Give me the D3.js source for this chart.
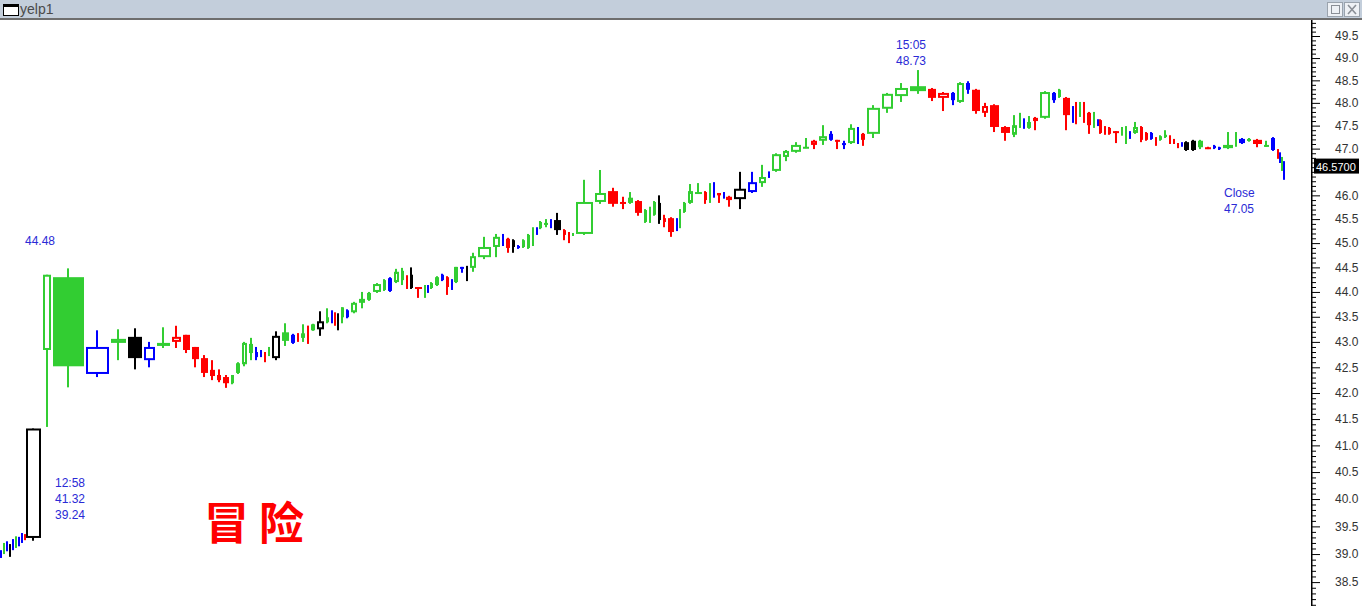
<!DOCTYPE html>
<html><head><meta charset="utf-8">
<script src="https://cdn.jsdelivr.net/npm/d3@7"></script>
<style>body{margin:0;background:#fff;overflow:hidden}svg{display:block}</style>
</head><body>
<svg id="c" width="1362" height="606"></svg>
<script>
const volumes=[3,3,3,3,3,3,3,3,2,17, 10,33,25,17,16,13,15,11,9,9, 9,7,6,8,5,6,7,6,5,4, 4,4,10,9,6,4,6,4,6,9,
5,3,3,4,5,5,8,8,6,10, 5,6,7,5,4,5,9,3,3,5, 6,5,5,3,6,6,4,8,15,9, 4,6,5,5,5,5,4,3,5,6,
4,9,5,4,4,19,13,12,8,7, 9,5,4,5,5,5,8,3,4,5, 7,9,5,4,4,6,3,8,14,11, 9,4,11,8,12,8,8,10,6,7,
6,9,4,6,15,13,15,18,10,13, 6,9,6,10,8,11,11,7,4,4, 6,7,12,6,5,9,3,4,4,4, 6,4,2,5,4,5,8,4,4,4,
7,5,5,5,4,5,5,4,4,4, 3,7,7,7,8,5,5,12,4,8, 6,11,7,6,2,2,2,2];
const opens=[39.03,39.03,39.20,39.14,39.11,39.16,39.27,39.23,39.34,39.29,
42.84,44.30,42.37,42.98,43.10,42.64,42.92,43.00,43.14,42.90,
42.68,42.45,42.35,42.31,42.19,42.39,42.56,42.96,42.80,42.78,
42.80,42.74,42.68,43.19,42.98,43.17,43.08,43.32,43.23,43.25,
43.49,43.53,43.53,43.49,43.49,43.63,43.59,43.78,43.98,44.00,
44.04,44.28,44.20,44.24,44.32,44.35,44.10,43.90,44.12,44.08,
44.14,44.35,44.30,44.24,44.20,44.51,44.53,44.49,44.71,44.92,
45.17,45.09,45.06,44.94,44.92,44.90,44.96,45.31,45.31,45.40,
45.48,45.48,45.27,45.21,45.17,45.19,45.86,46.09,45.86,45.84,
45.88,45.44,45.57,45.59,45.84,45.44,45.52,45.27,45.42,45.65,
45.84,46.05,46.07,45.86,46.26,46.05,46.05,45.97,45.92,46.07,
46.26,46.49,46.52,46.82,46.93,47.03,47.08,47.17,47.32,47.19,
47.12,47.12,47.45,47.19,47.32,47.87,48.15,48.37,48.31,48.11,
48.22,48.02,48.44,48.29,47.78,47.95,47.47,47.30,47.47,47.64,
47.45,47.60,47.67,48.22,48.13,48.11,47.91,48.00,47.71,48.00,
47.78,47.47,47.62,47.62,47.47,47.45,47.38,47.30,47.25,47.36,
47.34,47.47,47.34,47.34,47.23,47.19,47.25,47.27,47.19,47.12,
47.12,47.14,47.17,47.17,47.03,47.06,47.03,47.01,47.06,47.21,
47.17,47.19,47.06,47.23,46.97,46.90,46.80,46.71];
const highs=[39.07,39.20,39.23,39.18,39.27,39.32,39.31,39.38,39.36,41.32,
44.35,44.48,43.23,43.25,43.27,43.00,43.29,43.32,43.14,42.90,
42.74,42.64,42.46,42.35,42.35,42.60,43.00,43.08,42.90,42.84,
42.80,42.90,43.21,43.37,43.16,43.17,43.35,43.32,43.36,43.61,
43.67,43.63,43.59,43.57,43.69,43.65,43.80,44.00,44.00,44.18,
44.26,44.30,44.47,44.49,44.34,44.50,44.10,44.14,44.14,44.20,
44.32,44.37,44.32,44.26,44.51,44.51,44.53,44.80,45.13,45.19,
45.19,45.11,45.08,44.96,45.08,45.19,45.33,45.33,45.46,45.50,
45.50,45.63,45.29,45.23,45.21,46.33,46.54,46.16,45.97,46.07,
45.90,45.71,45.76,45.88,46.00,45.59,45.54,45.52,45.71,45.86,
46.24,46.26,46.09,46.26,46.28,46.05,46.07,45.99,46.50,46.50,
46.65,46.51,46.90,46.97,47.14,47.23,47.19,47.51,47.38,47.19,
47.17,47.53,47.47,47.34,47.95,48.22,48.44,48.73,48.33,48.24,
48.24,48.46,48.48,48.31,48.00,47.97,47.49,47.73,47.78,47.66,
47.71,47.69,48.26,48.24,48.31,48.13,47.93,48.02,48.02,48.02,
47.80,47.80,47.64,47.64,47.49,47.47,47.38,47.47,47.49,47.38,
47.58,47.49,47.36,47.36,47.25,47.29,47.40,47.29,47.21,47.12,
47.14,47.16,47.19,47.19,47.04,47.08,47.04,47.36,47.36,47.23,
47.23,47.21,47.17,47.25,46.99,46.92,46.82,46.73];
const lows=[38.93,39.00,39.05,38.95,39.07,39.11,39.14,39.20,39.25,39.24,
41.35,42.11,42.31,42.64,42.46,42.50,42.88,42.88,42.78,42.50,
42.31,42.25,42.21,42.10,42.17,42.37,42.52,42.64,42.64,42.70,
42.60,42.72,42.64,42.92,42.96,43.00,43.00,42.96,43.22,43.12,
43.37,43.37,43.32,43.23,43.37,43.47,43.57,43.67,43.82,43.98,
44.02,44.00,44.18,44.14,44.06,44.06,43.88,43.88,43.98,44.06,
44.12,44.22,43.94,44.04,44.18,44.39,44.22,44.41,44.67,44.71,
44.94,44.80,44.80,44.88,44.90,44.88,44.94,45.17,45.29,45.33,
45.31,45.17,45.06,45.00,45.15,45.17,45.82,45.76,45.71,45.82,
45.57,45.42,45.42,45.57,45.40,45.33,45.13,45.25,45.31,45.63,
45.82,46.03,45.82,45.84,45.95,45.84,45.93,45.76,45.71,46.05,
46.18,46.37,46.50,46.73,46.91,47.01,46.99,47.08,47.17,46.99,
46.99,47.10,47.10,47.06,47.23,47.78,48.02,48.20,48.04,47.82,
47.95,48.00,48.20,47.76,47.69,47.36,47.17,47.25,47.45,47.43,
47.43,47.40,47.65,48.00,48.11,47.40,47.56,47.53,47.69,47.56,
47.32,47.45,47.49,47.32,47.30,47.30,47.12,47.28,47.10,47.21,
47.32,47.14,47.17,47.19,47.06,47.17,47.23,47.10,47.10,47.01,
47.04,46.95,46.95,46.99,46.99,46.99,46.97,46.99,47.04,47.10,
47.15,47.03,47.04,46.95,46.78,46.69,46.52,46.33];
const closes=[38.96,39.16,39.09,39.03,39.23,39.29,39.20,39.34,39.29,41.32,
44.35,42.52,42.90,43.06,42.68,42.90,42.98,43.10,42.84,42.66,
42.39,42.33,42.25,42.19,42.35,42.58,42.98,42.78,42.70,42.76,
42.70,42.88,43.12,43.02,43.14,43.06,43.17,43.14,43.35,43.41,
43.39,43.43,43.41,43.47,43.69,43.49,43.78,43.86,43.84,44.16,
44.24,44.02,44.41,44.43,44.14,44.08,44.06,44.14,44.00,44.18,
44.30,44.24,44.10,44.08,44.51,44.49,44.49,44.73,44.92,45.13,
44.96,44.90,44.92,44.90,45.06,45.17,45.31,45.19,45.44,45.42,
45.33,45.27,45.17,45.13,45.19,45.86,46.05,45.82,45.82,45.95,
45.63,45.69,45.74,45.86,45.48,45.52,45.23,45.50,45.69,45.84,
46.09,46.07,45.90,46.24,45.97,46.00,45.95,45.90,46.14,46.28,
46.39,46.39,46.88,46.95,47.08,47.04,47.17,47.27,47.19,47.17,
47.08,47.45,47.12,47.32,47.89,48.20,48.33,48.26,48.11,48.22,
48.06,48.44,48.29,47.82,47.93,47.47,47.34,47.51,47.62,47.45,
47.58,47.67,48.24,48.06,48.29,47.73,47.73,47.78,48.00,47.58,
47.51,47.62,47.51,47.34,47.34,47.32,47.36,47.45,47.47,47.23,
47.47,47.19,47.19,47.21,47.19,47.27,47.30,47.12,47.12,47.10,
47.06,46.97,46.97,47.03,47.01,47.01,46.99,47.08,47.23,47.12,
47.21,47.10,47.08,46.97,46.80,46.71,46.54,46.57];
const colorCodes=("bgbkbgbbrk"+"ggbgkbgrrr"+"rrrrggggbb"+"rgkgbrgrgk"+"gbrkgbgggg"+
"gbggrkrgbg"+"gbrbgbkggg"+"brkbgggbgg"+"bkrrgggrrg"+"rgggkrrbgg"+
"ggrgbrbrkb"+"gbggggrgbr"+"bgbrggggrr"+"bgbrrrrggb"+"grgbgrbrgr"+
"rgbrrrrggb"+"grrbrggrrr"+"bkkgrbbggb"+"grgbrbgb").split("");
const majorTicks=d3.range(77,100).map(v=>v/2);
const minorTicks=d3.range(381,499).map(v=>v/10).filter(v=>Math.abs(v*2-Math.round(v*2))>1e-6);
const notes=[
  {x:25,y:245,lines:["44.48"]},
  {x:55,y:487,lines:["12:58","41.32","39.24"]},
  {x:896,y:49,lines:["15:05","48.73"]},
  {x:1224,y:197,lines:["Close","47.05"]}
];
const watermark="冒险";
const lastPrice=46.57;

const palette={g:"#32cd32",r:"#ff0000",b:"#0000ff",k:"#000000"};
const W=1362,H=606;
const svg=d3.select("#c");

// title bar
svg.append("rect").attr("x",0).attr("y",0).attr("width",W).attr("height",18).attr("fill","#c3cedb");
svg.append("rect").attr("x",0).attr("y",18).attr("width",W).attr("height",2).attr("fill","#6e6e6e");
svg.append("rect").attr("x",3.5).attr("y",4.5).attr("width",15).attr("height",11).attr("fill","#fff").attr("stroke","#000");
svg.append("rect").attr("x",3).attr("y",4).attr("width",16).attr("height",3).attr("fill","#000");
svg.append("text").attr("x",20).attr("y",14).attr("font-family","Liberation Sans, Arial").attr("font-size",14).attr("fill","#4a4a4a").text("yelp1");
[1327,1344].forEach((bx,i)=>{
  svg.append("rect").attr("x",bx+0.5).attr("y",2.5).attr("width",15).attr("height",14).attr("fill","#eef1f5").attr("stroke","#9aa3ad");
  if(i===0){svg.append("rect").attr("x",bx+4.5).attr("y",5.5).attr("width",8).attr("height",8).attr("fill","none").attr("stroke","#8a8f96");}
  else{svg.append("path").attr("d",`M${bx+4},${5}L${bx+12},${14}M${bx+12},${5}L${bx+4},${14}`).attr("stroke","#8a8f96").attr("stroke-width",1.6);}
});

svg.append("defs").append("clipPath").attr("id","clip").append("rect").attr("x",0).attr("y",20).attr("width",1300).attr("height",586);

let cum=0;
const candles=opens.map((o,i)=>{const d={o,h:highs[i],l:lows[i],c:closes[i],v:volumes[i],col:palette[colorCodes[i]],start:cum};cum+=volumes[i];return d;});
const x=d3.scaleLinear().domain([0,cum]).range([0,1285]);
const y=d3.scaleLog().domain([38.5,49.5]).range([582.1,36]);

// watermark
svg.append("text").attr("x",204).attr("y",540).attr("font-family","Noto Sans CJK SC").attr("font-weight",700)
  .attr("font-size",45).attr("letter-spacing",10).attr("fill","#ff0000").text(watermark);

const g=svg.append("g").attr("clip-path","url(#clip)");
candles.forEach(d=>{
  const x0=Math.round(x(d.start));
  const w=Math.max(2,Math.round(x(d.start+d.v))-2-x0);
  const cx=x0+Math.floor(w/2);
  g.append("rect").attr("x",cx-1).attr("y",y(d.h)).attr("width",2).attr("height",Math.max(1,y(d.l)-y(d.h))).attr("fill",d.col);
  const top=y(Math.max(d.o,d.c)), bot=y(Math.min(d.o,d.c));
  const bh=Math.max(2,bot-top);
  if(d.c>d.o && w>=5 && bh>=4){
    g.append("rect").attr("x",x0+1).attr("y",top+1).attr("width",w-2).attr("height",bh-2).attr("fill","#fff").attr("stroke",d.col).attr("stroke-width",2);
  } else {
    g.append("rect").attr("x",x0).attr("y",top).attr("width",w).attr("height",bh).attr("fill",d.col);
  }
});

// notes
notes.forEach(n=>{
  const t=svg.append("text").attr("font-family","Liberation Sans, Arial").attr("font-size",12).attr("fill","#2a2ad6");
  n.lines.forEach((s,i)=>t.append("tspan").attr("x",n.x).attr("y",n.y+i*16).text(s));
});

// axis
const ly=y(lastPrice)-2;
const ax=svg.append("g").attr("transform","translate(1312,0)");
ax.call(d3.axisRight(y).tickValues(majorTicks).tickSize(8).tickPadding(15)
  .tickFormat(v=>Math.abs(y(v)-ly)<10?"":d3.format(".1f")(v)));
const axm=svg.append("g").attr("transform","translate(1312,0)");
axm.call(d3.axisRight(y).tickValues(minorTicks).tickSize(4).tickFormat(""));
[ax,axm].forEach(a=>{a.select(".domain").remove();a.selectAll("line").attr("stroke","#000");});
ax.selectAll("text").attr("font-family","Liberation Sans, Arial").attr("font-size",12).attr("fill","#333");
svg.append("rect").attr("x",1311).attr("y",20).attr("width",1.5).attr("height",586).attr("fill","#000");

// last price label
svg.append("rect").attr("x",1314).attr("y",ly-8).attr("width",45).attr("height",15).attr("fill","#000");
svg.append("text").attr("x",1316).attr("y",ly+4).attr("font-family","Liberation Sans, Arial").attr("font-size",11).attr("fill","#fff").text(lastPrice.toFixed(4));
</script>
</body></html>
